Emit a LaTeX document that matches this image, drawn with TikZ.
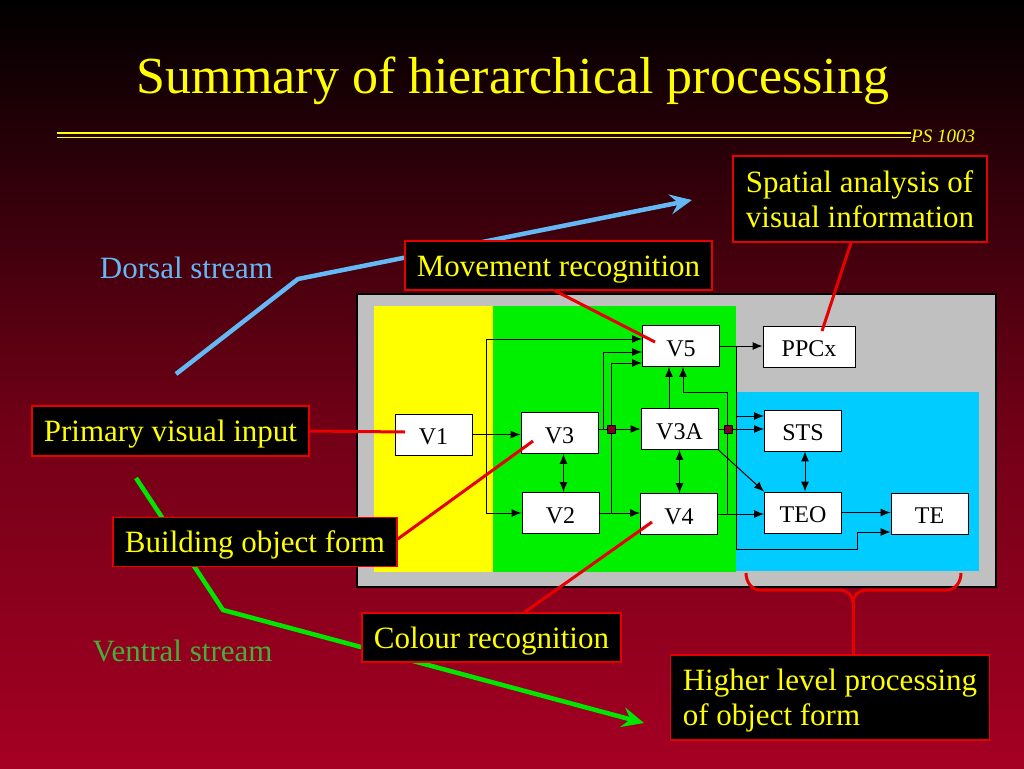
\documentclass[tikz,border=0pt]{standalone}
\usepackage{fontspec}
\setmainfont{Liberation Serif}
\usetikzlibrary{arrows.meta,calc}
\definecolor{bgred}{RGB}{165,0,35}
\definecolor{bgmid}{RGB}{112,0,22}
\definecolor{ttl}{RGB}{255,255,0}
\definecolor{lblred}{RGB}{230,0,0}
\definecolor{dorsal}{RGB}{100,185,245}
\definecolor{ventral}{RGB}{0,230,0}
\definecolor{ventraltxt}{RGB}{70,175,60}
\definecolor{panelgray}{RGB}{192,192,192}
\definecolor{areayellow}{RGB}{255,255,0}
\definecolor{areagreen}{RGB}{0,240,0}
\definecolor{areacyan}{RGB}{0,204,255}
\definecolor{junc}{RGB}{128,0,32}
\begin{document}
\begin{tikzpicture}[x=1pt,y=-1pt,
 box/.style={draw=black, fill=white, line width=0.9pt, minimum width=77pt, minimum height=41pt, inner sep=0pt, text height=20pt, text depth=0pt, font=\fontsize{24}{28}\selectfont},
 lab/.style={fill=black, draw=lblred, line width=1.5pt, text=ttl, inner sep=0pt, text height=21pt, text depth=0pt, font=\fontsize{31}{35}\selectfont},
 lab2/.style={lab, text depth=35pt},
 conn/.style={draw=black, line width=1pt, -{Latex[length=10pt,width=8pt]}},
 dconn/.style={draw=black, line width=1pt, {Latex[length=10pt,width=8pt]}-{Latex[length=10pt,width=8pt]}},
 redline/.style={draw=lblred, line width=3pt},
 stream/.style={line width=4.5pt, -{Stealth[length=22pt,width=20pt,inset=8pt]}},
 jsq/.style={fill=junc, draw=black, line width=0.4pt, minimum size=8pt, inner sep=0pt},
 streamtxt/.style={font=\fontsize{31}{35}\selectfont, inner sep=0pt}
]
\useasboundingbox (0,0) rectangle (1024,768);
% background
\shade[top color=black, bottom color=bgmid] (0,0) rectangle (1024,420.5);
\shade[top color=bgmid, bottom color=bgred] (0,420) rectangle (1024,768);

% title and rule
\node[text=ttl, font=\fontsize{52}{60}\selectfont, anchor=base, inner sep=0pt] (title) at (513,93) {Summary of hierarchical processing};
\draw[ttl, line width=1.3pt] (57,133) -- (911,133);
\draw[ttl, line width=1.3pt] (57,137.5) -- (911,137.5);
\node[text=ttl, font=\fontsize{19}{22}\selectfont\itshape, anchor=west, inner sep=0pt] (ps) at (911,136) {PS 1003};

% panel
\draw[fill=panelgray, draw=black, line width=1.5pt] (357,294) rectangle (996,587);
\fill[areayellow] (374,306) rectangle (493,572);
\fill[areagreen] (493,306) rectangle (736,572);
\fill[areacyan] (736,392) rectangle (979,571);

% streams
\draw[stream, dorsal] (176,374) -- (298,279) -- (692,200);
\draw[stream, ventral] (136,478) -- (223,610) -- (644,723);
\node[streamtxt, text=dorsal] (dorsaltxt) at (186.5,268) {Dorsal stream};
\node[streamtxt, text=ventraltxt] (ventraltxt) at (182.5,651) {Ventral stream};

% label boxes
\node[lab2, minimum width=254pt, minimum height=86pt] (spat) at (860,199)
  {\begin{tabular}[t]{@{}l@{}}Spatial analysis of\\visual information\end{tabular}};
\node[lab, minimum width=307pt, minimum height=49pt] (mov) at (558.5,265.5) {Movement recognition};
\node[lab, minimum width=277pt, minimum height=50pt] (prim) at (170.5,431) {Primary visual input};
\node[lab, minimum width=284pt, minimum height=49pt] (build) at (255,542) {Building object form};
\node[lab, minimum width=259pt, minimum height=49pt] (colour) at (491.5,637.5) {Colour recognition};
\node[lab2, minimum width=319pt, minimum height=85pt] (higher) at (830,697.5)
  {\begin{tabular}[t]{@{}l@{}}Higher level processing\\of object form\end{tabular}};

% area boxes
\node[box] (V1) at (433.5,434.5) {V1};
\node[box] (V3) at (559.5,433) {V3};
\node[box] (V2) at (560.5,513) {V2};
\node[box] (V5) at (681,346) {V5};
\node[box] (V3A) at (679.5,429) {V3A};
\node[box] (V4) at (679,514) {V4};
\node[box, minimum width=92pt] (PPCx) at (809,346.5) {PPCx};
\node[box] (STS) at (803,430.5) {STS};
\node[box] (TEO) at (803,512.5) {TEO};
\node[box] (TE) at (929.5,513.5) {TE};

% connectors
\draw[conn] (V1.east) -- (V1.east -| V3.west);
\coordinate (J1) at ($(V1.east)+(14,0)$);
\draw[conn] (J1) |- ([yshift=7pt]V5.west);
\draw[conn] (J1) |- (V2.west);

\draw[conn] (V3.east |- V3A.west) -- (V3A.west);
\coordinate (J2) at ($(V3.east |- V3A.west)+(5,0)$);
\draw[conn] (J2) |- ([yshift=-6pt]V5.west);

\draw[conn] (V2.east) -- (V2.east -| V4.west);
\coordinate (J3) at ($(V2.east)+(12,0)$);
\draw[conn] (J3) |- ([yshift=-17pt]V5.west);

\draw[dconn] ([xshift=4pt]V3.south) -- ([xshift=4pt]V3.south |- V2.north);
\draw[dconn] (V3A.south) -- (V3A.south |- V4.north);
\draw[conn] ([xshift=-10.5pt]V3A.north) -- ([xshift=-10.5pt]V3A.north |- V5.south);

\coordinate (J4) at ($(V4.east)+(10,0)$);
\coordinate (K1) at ($(J4)+(0,-122)$);
\draw[conn] (J4) -- (K1) -| ([xshift=2pt]V5.south);

\draw[conn] (V4.east) -- (V4.east -| TEO.west);
\draw[conn] (V3A.east) -- (V3A.east -| STS.west);
\draw[conn] (V3A.south east) -- (TEO.north west);
\draw[dconn] ([xshift=2pt]STS.south) -- ([xshift=2pt]STS.south |- TEO.north);
\draw[conn] (TEO.east) -- (TEO.east -| TE.west);
\draw[conn] (V5.east) -- (V5.east -| PPCx.west);
\coordinate (J5) at ($(V5.east)+(17,0)$);
\draw[conn] (J5) |- ([yshift=14.5pt]STS.west);
\coordinate (K2) at ($(J5)+(120.5,203)$);
\draw[conn] (J5) |- (K2) |- ([yshift=-18.5pt]TE.west);

\node[jsq] (sq1) at (J3 |- V3A.west) {};
\node[jsq] (sq2) at (J4 |- V3A.east) {};

% red pointers
\draw[redline] (prim.east) -- ($(V1)+(-28.5,-2.5)$);
\draw[redline] ($(build.east)+(0,-3)$) -- ($(V3)+(-26.5,8)$);
\draw[redline] ($(mov.south)+(-3.5,0)$) -- ($(V5)+(-26,-4)$);
\draw[redline] ($(spat.south)+(-9,0)$) -- ($(PPCx)+(13,-15.5)$);
\draw[redline] ($(colour.north)+(33,0)$) -- ($(V4)+(-27,8)$);

% brace
\coordinate (BR) at (853,603);
\draw[redline] (746,573) to[out=270,in=180] (760,590) -- (840,590) to[out=0,in=90] (BR);
\draw[redline] (961,573) to[out=270,in=0] (947,590) -- (866,590) to[out=180,in=90] (BR);
\draw[redline] (BR) -- (BR |- higher.north);
\end{tikzpicture}
\end{document}
